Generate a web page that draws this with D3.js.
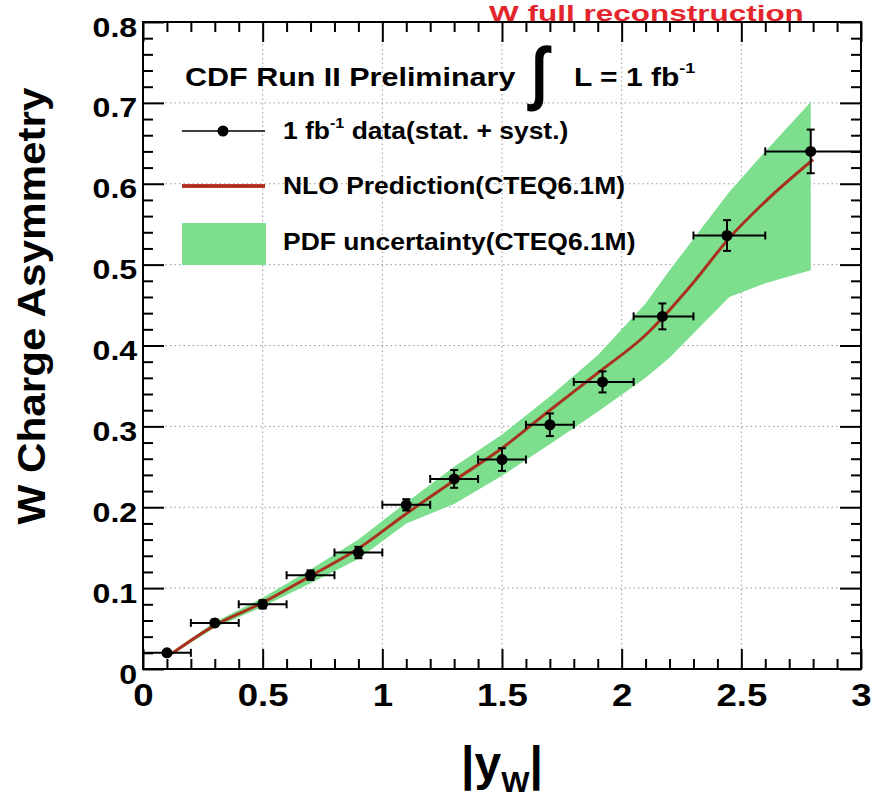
<!DOCTYPE html>
<html>
<head>
<meta charset="utf-8">
<script src="https://cdn.jsdelivr.net/npm/d3@7"></script>
<style>
  html, body { margin: 0; padding: 0; background: #fff; }
  svg { display: block; }
  text { font-family: "Liberation Sans", Arial, Helvetica, sans-serif; font-weight: bold; }
</style>
</head>
<body>
<svg id="chart" width="891" height="802"></svg>
<script>
// ---------- data ----------
const pointX   = [0.1, 0.3, 0.5, 0.7, 0.9, 1.1, 1.3, 1.5, 1.7, 1.92, 2.17, 2.44, 2.79];
const pointY   = [0.020, 0.057, 0.080, 0.116, 0.144, 0.203, 0.235, 0.259, 0.302, 0.355, 0.436, 0.536, 0.640];
const xErrLow  = [0.0, 0.2, 0.4, 0.6, 0.8, 1.0, 1.2, 1.4, 1.6, 1.8, 2.05, 2.3, 2.6];
const xErrHigh = [0.2, 0.4, 0.6, 0.8, 1.0, 1.2, 1.4, 1.6, 1.8, 2.05, 2.3, 2.6, 3.0];
const yErr     = [0.003, 0.004, 0.005, 0.006, 0.007, 0.007, 0.011, 0.014, 0.014, 0.013, 0.016, 0.019, 0.027];

const nloX = [0.12, 0.3, 0.5, 0.7, 0.9, 1.1, 1.3, 1.5, 1.7, 1.9, 2.1, 2.3, 2.45, 2.6, 2.8];
const nloY = [0.019, 0.054, 0.082, 0.115, 0.149, 0.192, 0.233, 0.273, 0.320, 0.366, 0.413, 0.478, 0.533, 0.578, 0.630];

const bandX    = [0.12, 0.3, 0.5, 0.7, 0.9, 1.1, 1.3, 1.5, 1.7, 1.9, 2.1, 2.2, 2.45, 2.6, 2.79];
const bandLow  = [0.018, 0.051, 0.077, 0.106, 0.136, 0.180, 0.204, 0.239, 0.278, 0.318, 0.360, 0.385, 0.460, 0.477, 0.493];
const bandHigh = [0.021, 0.058, 0.088, 0.123, 0.160, 0.206, 0.250, 0.290, 0.337, 0.388, 0.452, 0.493, 0.590, 0.640, 0.701];

const xMajor = [0, 0.5, 1, 1.5, 2, 2.5, 3];
const xMajorLabels = ["0", "0.5", "1", "1.5", "2", "2.5", "3"];
const yMajor = [0, 0.1, 0.2, 0.3, 0.4, 0.5, 0.6, 0.7, 0.8];
const yMajorLabels = ["0", "0.1", "0.2", "0.3", "0.4", "0.5", "0.6", "0.7", "0.8"];
const xGrid = [0.5, 1, 1.5, 2, 2.5];
const yGrid = [0.1, 0.2, 0.3, 0.4, 0.5, 0.6, 0.7];

const titleText = "W full reconstruction";
const yTitle = "W Charge Asymmetry";

// ---------- layout ----------
const L = 143, R = 861, T = 22, B = 669;
const svg = d3.select("#chart");
svg.append("rect").attr("width", 891).attr("height", 802).attr("fill", "#fff");

const x = d3.scaleLinear().domain([0, 3]).range([L, R]);
const y = d3.scaleLinear().domain([0, 0.8]).range([B, T]);

const xMinor = d3.range(0, 3.0001, 0.1).map(v => +v.toFixed(2)).filter(v => !xMajor.some(m => Math.abs(m - v) < 1e-6));
const yMinor = d3.range(0, 0.8001, 0.02).map(v => +v.toFixed(2)).filter(v => !yMajor.some(m => Math.abs(m - v) < 1e-6));

// grid
const grid = svg.append("g").attr("stroke", "#9a9a9a").attr("stroke-width", 1).attr("stroke-dasharray", "1.5,3");
grid.selectAll("line.gx").data(xGrid).join("line")
  .attr("x1", d => x(d)).attr("x2", d => x(d)).attr("y1", T).attr("y2", B);
grid.selectAll("line.gy").data(yGrid).join("line")
  .attr("y1", d => y(d)).attr("y2", d => y(d)).attr("x1", L).attr("x2", R);

// band
const band = bandX.map((v, i) => ({x: v, lo: bandLow[i], hi: bandHigh[i]}));
svg.append("path").datum(band)
  .attr("fill", "#7ddf8e")
  .attr("d", d3.area().x(d => x(d.x)).y0(d => y(d.lo)).y1(d => y(d.hi)));

// NLO line
const nlo = nloX.map((v, i) => ({x: v, y: nloY[i]}));
svg.append("path").datum(nlo)
  .attr("fill", "none").attr("stroke", "#a8321e").attr("stroke-width", 3)
  .attr("d", d3.line().x(d => x(d.x)).y(d => y(d.y)).curve(d3.curveMonotoneX));

// data points
const pts = pointX.map((v, i) => ({x: v, y: pointY[i], xl: xErrLow[i], xh: xErrHigh[i], e: yErr[i]}));
const pg = svg.append("g").attr("stroke", "#000").attr("stroke-width", 2);
pg.selectAll("line.xe").data(pts).join("line")
  .attr("x1", d => x(d.xl)).attr("x2", d => x(d.xh)).attr("y1", d => y(d.y)).attr("y2", d => y(d.y));
pg.selectAll("line.ye").data(pts).join("line")
  .attr("x1", d => x(d.x)).attr("x2", d => x(d.x)).attr("y1", d => y(d.y - d.e)).attr("y2", d => y(d.y + d.e));
pg.selectAll("line.xc1").data(pts).join("line")
  .attr("x1", d => x(d.xl)).attr("x2", d => x(d.xl)).attr("y1", d => y(d.y) - 4).attr("y2", d => y(d.y) + 4);
pg.selectAll("line.xc2").data(pts.filter(d => d.xh < 3)).join("line")
  .attr("x1", d => x(d.xh)).attr("x2", d => x(d.xh)).attr("y1", d => y(d.y) - 4).attr("y2", d => y(d.y) + 4);
pg.selectAll("line.yc1").data(pts).join("line")
  .attr("x1", d => x(d.x) - 4).attr("x2", d => x(d.x) + 4).attr("y1", d => y(d.y - d.e)).attr("y2", d => y(d.y - d.e));
pg.selectAll("line.yc2").data(pts).join("line")
  .attr("x1", d => x(d.x) - 4).attr("x2", d => x(d.x) + 4).attr("y1", d => y(d.y + d.e)).attr("y2", d => y(d.y + d.e));
svg.append("g").selectAll("circle").data(pts).join("circle")
  .attr("cx", d => x(d.x)).attr("cy", d => y(d.y)).attr("r", 5.5).attr("fill", "#000");

// axes (ticks inward)
function styleAxis(g) { g.select(".domain").remove(); g.selectAll("line").attr("stroke", "#000").attr("stroke-width", 2); }

svg.append("g").attr("transform", `translate(0,${B})`)
  .call(d3.axisBottom(x).tickValues(xMinor).tickSize(-10).tickFormat("")).call(styleAxis);
const xb = svg.append("g").attr("transform", `translate(0,${B})`)
  .call(d3.axisBottom(x).tickValues(xMajor).tickSize(-20).tickPadding(15)
    .tickFormat((d, i) => xMajorLabels[i])).call(styleAxis);
xb.selectAll("text").attr("font-size", 31).attr("fill", "#000")
  .attr("font-family", "Liberation Sans, Arial, sans-serif").attr("font-weight", "bold")
  .attr("transform", "scale(1.18,1)");

svg.append("g").attr("transform", `translate(0,${T})`)
  .call(d3.axisTop(x).tickValues(xMinor).tickSize(-10).tickFormat("")).call(styleAxis);
svg.append("g").attr("transform", `translate(0,${T})`)
  .call(d3.axisTop(x).tickValues(xMajor).tickSize(-20).tickFormat("")).call(styleAxis);

svg.append("g").attr("transform", `translate(${L},0)`)
  .call(d3.axisLeft(y).tickValues(yMinor).tickSize(-10).tickFormat("")).call(styleAxis);
const yl = svg.append("g").attr("transform", `translate(${L},0)`)
  .call(d3.axisLeft(y).tickValues(yMajor).tickSize(-21).tickPadding(5)
    .tickFormat((d, i) => yMajorLabels[i])).call(styleAxis);
yl.selectAll("text").attr("font-size", 28).attr("fill", "#000").attr("dy", "0.5em")
  .attr("font-family", "Liberation Sans, Arial, sans-serif").attr("font-weight", "bold")
  .attr("transform", "scale(1.15,1)");

svg.append("g").attr("transform", `translate(${R},0)`)
  .call(d3.axisRight(y).tickValues(yMinor).tickSize(-10).tickFormat("")).call(styleAxis);
svg.append("g").attr("transform", `translate(${R},0)`)
  .call(d3.axisRight(y).tickValues(yMajor).tickSize(-21).tickFormat("")).call(styleAxis);

// frame
svg.append("rect").attr("x", L).attr("y", T).attr("width", R - L).attr("height", B - T)
  .attr("fill", "none").attr("stroke", "#000").attr("stroke-width", 2);

// text helper: group with horizontal stretch
function label(xp, yp, sx, size, anchor, fill) {
  return svg.append("g").attr("transform", `translate(${xp},${yp}) scale(${sx},1)`)
    .append("text").attr("font-size", size).attr("text-anchor", anchor || "start").attr("fill", fill || "#000");
}

// title
label(489, 20.5, 1.4, 22.5, "start", "#e3262b").text(titleText);

// y title
svg.append("text").attr("transform", "translate(45,306) rotate(-90)")
  .attr("text-anchor", "middle").attr("font-size", 39).attr("fill", "#000")
  .attr("textLength", 437).attr("lengthAdjust", "spacingAndGlyphs").text(yTitle);

// x title |y_W|
const xt = label(502, 780, 1.0, 48, "middle");
xt.append("tspan").text("|y");
xt.append("tspan").attr("font-size", 30).attr("dy", 12).text("W");
xt.append("tspan").attr("dy", -12).text("|");

// header: CDF Run II Preliminary ∫ L = 1 fb^-1
label(185, 86, 1.22, 25).text("CDF Run II Preliminary");
svg.append("text").attr("x", 531).attr("y", 96).attr("font-size", 70).attr("font-weight", "normal")
  .attr("font-family", "DejaVu Sans, sans-serif").attr("transform", "translate(531,0) scale(0.85,1) translate(-531,0)").text("\u222B");
const hl = label(574, 86, 1.2, 25);
hl.append("tspan").text("L = 1 fb");
hl.append("tspan").attr("font-size", 15).attr("dy", -13).text("-1");

// legend
const lg = svg.append("g");
lg.append("line").attr("x1", 182).attr("x2", 265).attr("y1", 131).attr("y2", 131).attr("stroke", "#000").attr("stroke-width", 1.5);
lg.append("circle").attr("cx", 223).attr("cy", 131).attr("r", 5.5).attr("fill", "#000");
lg.append("line").attr("x1", 182).attr("x2", 265).attr("y1", 186).attr("y2", 186).attr("stroke", "#c0392b").attr("stroke-width", 4);
lg.append("line").attr("x1", 182).attr("x2", 265).attr("y1", 186).attr("y2", 186).attr("stroke", "#6b1a10").attr("stroke-width", 1.5).attr("stroke-dasharray", "1,1.5");
lg.append("rect").attr("x", 182).attr("y", 223).attr("width", 84).attr("height", 42).attr("fill", "#7ddf8e");

const t1 = label(283, 139, 1.15, 23);
t1.append("tspan").text("1 fb");
t1.append("tspan").attr("font-size", 14).attr("dy", -11).text("-1");
t1.append("tspan").attr("dy", 11).text(" data(stat. + syst.)");
label(283, 194, 1.15, 23).text("NLO Prediction(CTEQ6.1M)");
label(283, 250, 1.15, 23).text("PDF uncertainty(CTEQ6.1M)");
</script>
</body>
</html>
